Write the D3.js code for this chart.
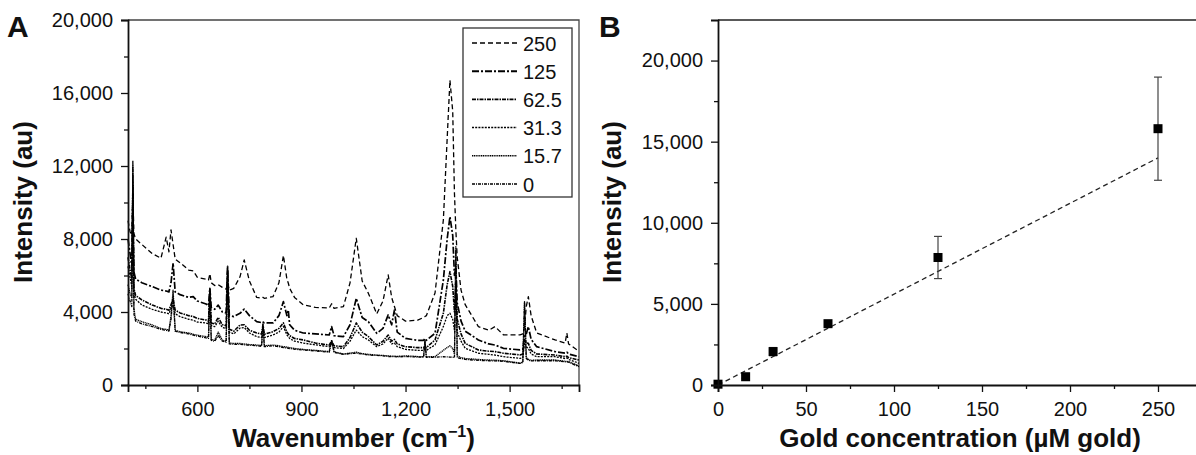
<!DOCTYPE html>
<html lang="en">
<head>
<meta charset="utf-8" />
<title>SERS spectra and calibration</title>
<script src="https://cdn.jsdelivr.net/npm/d3@7/dist/d3.min.js"></script>
<style>
    body { margin: 0; background: #fff; }
    svg { display: block; font-family: "Liberation Sans", Arial, sans-serif; }
    .tick text { font-size: 20px; fill: #111; }
    .title { font-size: 26px; font-weight: bold; fill: #111; }
    .panel { font-size: 30px; font-weight: bold; fill: #111; }
</style>
</head>
<body>
<div id="chart"></div>
<script>
// ---- panel A: spectra (wavenumber grid shared by every series) ----
var wavenumber = [400, 406, 411, 414, 417, 422, 440, 470, 495, 510, 518, 524, 530, 536, 550, 575, 588, 600, 625, 632,
    636, 640, 650, 660, 672, 683, 687, 692, 705, 723, 735, 750, 771, 785, 789, 793, 818, 835, 848, 858,
    862, 866, 880, 905, 940, 980, 987, 994, 1021, 1040, 1058, 1075, 1093, 1117, 1135, 1150, 1160, 1168, 1176, 1200,
    1235, 1252, 1256, 1260, 1285, 1309, 1320, 1328, 1336, 1341, 1345, 1349, 1360, 1372, 1410, 1440, 1458, 1482, 1530, 1538,
    1543, 1548, 1554, 1562, 1578, 1631, 1660, 1665, 1670, 1700];

var spec250 = [9000, 8400, 8200, 10500, 8300, 8000, 7700, 7200, 6950, 8100, 7300, 8500, 7700, 6900, 6700, 6300, 6250, 5900, 5800, 5750,
    6100, 5600, 5450, 5500, 5350, 5250, 5600, 5200, 5300, 5940, 6850, 5700, 4800, 4750, 4800, 4750, 4840, 5600, 7100, 5800,
    5590, 5300, 4800, 4400, 4250, 4220, 4450, 4200, 4300, 5600, 8040, 5700, 5020, 3900, 4600, 6030, 4800, 4300, 3800, 3500,
    3550, 3700, 3750, 3800, 5040, 9040, 13500, 16700, 15000, 10500, 8500, 7000, 5200, 4400, 3200, 3000, 3200, 2750, 2750, 2800,
    3200, 4300, 4840, 3800, 2850, 2470, 2300, 2850, 2250, 1850];

var spec125 = [8000, 7200, 6500, 9500, 6200, 5800, 5600, 5390, 5200, 5150, 5100, 5600, 6680, 5100, 4950, 4800, 4840, 4600, 4440, 4350,
    5300, 4250, 4150, 4380, 4000, 3950, 6500, 3800, 3750, 3930, 4160, 3800, 3470, 3420, 3450, 3400, 3400, 3800, 4570, 3800,
    4110, 3300, 3000, 2850, 2800, 2740, 3200, 2700, 2650, 3300, 4750, 3700, 3470, 2830, 3100, 3840, 3300, 4110, 2900, 2550,
    2450, 2450, 2550, 2450, 2830, 5750, 8000, 9220, 8200, 6000, 6500, 4500, 3500, 2950, 2470, 2250, 2190, 2010, 1920, 1950,
    2700, 2800, 3200, 2500, 2100, 1830, 1750, 1800, 1700, 1550];

var spec62 = [7000, 6300, 5800, 11000, 5300, 4900, 4660, 4380, 4200, 4150, 4100, 4400, 4700, 4100, 3950, 3800, 3750, 3650, 3560, 3500,
    5300, 3400, 3350, 3700, 3300, 3250, 6200, 3050, 2950, 3290, 3300, 3000, 2850, 2800, 3300, 2780, 2920, 3100, 3400, 2900,
    2800, 2700, 2550, 2470, 2300, 2190, 2400, 2150, 2100, 2600, 3400, 2900, 2650, 2190, 2400, 2740, 2400, 2500, 2250, 2100,
    2050, 2050, 2100, 2050, 2470, 3930, 5500, 6210, 5400, 4000, 5500, 3600, 2800, 2280, 1920, 1850, 1830, 1740, 1650, 1700,
    2500, 2300, 2280, 1900, 1700, 1640, 1550, 1580, 1500, 1370];

var spec31 = [6500, 5900, 5400, 11500, 5000, 4700, 4380, 4150, 4000, 3950, 3900, 4200, 4500, 3900, 3750, 3600, 3550, 3450, 3400, 3350,
    5100, 3250, 3200, 3500, 3150, 3100, 6000, 2900, 2800, 3120, 3150, 2850, 2650, 2600, 3200, 2600, 2740, 2900, 3200, 2750,
    2650, 2550, 2400, 2300, 2200, 2100, 2300, 2050, 2000, 2400, 3010, 2650, 2470, 2100, 2250, 2560, 2250, 2300, 2100, 1950,
    1900, 1900, 1950, 1900, 2200, 3200, 3800, 3930, 3600, 3000, 5000, 2900, 2400, 2010, 1740, 1680, 1640, 1550, 1460, 1500,
    2300, 2100, 2010, 1700, 1550, 1550, 1450, 1480, 1400, 1190];

var spec15 = [5500, 5000, 4800, 12000, 4200, 3600, 3470, 3290, 3100, 3050, 3000, 3800, 5200, 3000, 2920, 2850, 2780, 2730, 2650, 2620,
    5100, 2500, 2450, 2900, 2450, 2400, 6400, 2300, 2280, 2280, 2250, 2220, 2190, 2170, 3400, 2150, 2190, 2150, 2100, 2080,
    2060, 2050, 2000, 1950, 1900, 1830, 2470, 1820, 1700, 1750, 1800, 1720, 1680, 1640, 1620, 1600, 1580, 1580, 1570, 1600,
    1560, 1560, 2470, 1550, 1560, 1900, 2050, 2150, 2000, 1700, 7580, 1600, 1500, 1450, 1400, 1370, 1360, 1330, 1200, 1250,
    4570, 1500, 1400, 1350, 1370, 1370, 1300, 1300, 1280, 1050];

var spec0 = [5000, 4600, 4300, 12300, 3900, 3500, 3350, 3200, 3050, 3000, 2950, 3600, 4900, 2950, 2880, 2800, 2740, 2680, 2580, 2560,
    4900, 2450, 2400, 2700, 2400, 2350, 6300, 2250, 2230, 2230, 2200, 2180, 2150, 2120, 3200, 2100, 2150, 2100, 2050, 2030,
    2010, 2000, 1960, 1920, 1870, 1800, 2400, 1790, 1680, 1720, 1740, 1700, 1640, 1620, 1600, 1560, 1550, 1550, 1540, 1560,
    1530, 1520, 2400, 1510, 1520, 1550, 1540, 1530, 1520, 1500, 7400, 1500, 1450, 1400, 1350, 1330, 1320, 1300, 1180, 1230,
    4500, 1450, 1350, 1320, 1330, 1330, 1270, 1270, 1250, 1000];

var legendLabels = ["250", "125", "62.5", "31.3", "15.7", "0"];

var xTicksA = [600, 900, 1200, 1500];
var xMinorA = [450, 750, 1050, 1350, 1650];
var yTicksA = [0, 4000, 8000, 12000, 16000, 20000];
var yMinorA = [2000, 6000, 10000, 14000, 18000];

// ---- panel B: calibration ----
var concentration = [0, 15.7, 31.3, 62.5, 125, 250];
var meanIntensity = [50, 510, 2060, 3780, 7860, 15800];
var errIntensity = [0, 100, 250, 150, 1300, 3180];
var fitConc = [0, 250];
var fitIntensity = [0, 14000];

var xTicksB = [0, 50, 100, 150, 200, 250];
var xMinorB = [25, 75, 125, 175, 225];
var yTicksB = [0, 5000, 10000, 15000, 20000];
var yMinorB = [2500, 7500, 12500, 17500];

var width = 1196, height = 455;

var svg = d3.select("#chart").append("svg")
    .attr("width", width)
    .attr("height", height);

var fmt = d3.format(",");

// scales
var xA = d3.scaleLinear().domain([400, 1700]).range([128, 579]);
var yA = d3.scaleLinear().domain([0, 20000]).range([385, 20]);
var xB = d3.scaleLinear().domain([0, 275]).range([718, 1202]);
var yB = d3.scaleLinear().domain([0, 22500]).range([385, 20]);

// helper: major + minor axis
function drawAxis(axisFn, scale, major, minor, translate, pad) {
    svg.append("g")
        .attr("transform", translate)
        .call(axisFn(scale).tickValues(minor).tickSize(4).tickFormat(""))
        .call(function (g) { g.select(".domain").remove(); })
        .selectAll("line").attr("stroke", "#111").attr("stroke-width", 1.3);
    var g = svg.append("g")
        .attr("transform", translate)
        .call(axisFn(scale).tickValues(major).tickSize(7).tickPadding(pad).tickFormat(fmt));
    g.selectAll("line").attr("stroke", "#111").attr("stroke-width", 1.3);
    g.select(".domain").attr("stroke", "#111").attr("stroke-width", 1.8);
    g.selectAll("text").attr("font-family", null).attr("font-size", null);
    return g;
}

// ---------- Panel A ----------
// frame top/right
svg.append("path")
    .attr("d", "M" + xA(400) + "," + yA(20000) + "H" + xA(1700) + "V" + yA(0))
    .attr("fill", "none").attr("stroke", "#444").attr("stroke-width", 1.3);

var series = [
    { label: "250", values: spec250, dash: "5,3", w: 1.3 },
    { label: "125", values: spec125, dash: "7,2,2,2", w: 1.7 },
    { label: "62.5", values: spec62, dash: "4,1,1.5,1", w: 1.6 },
    { label: "31.3", values: spec31, dash: "2,1.2", w: 1.3 },
    { label: "15.7", values: spec15, dash: "1.2,0.6", w: 1.3 },
    { label: "0", values: spec0, dash: "3,1,1,1", w: 1.3 }
];

var lineA = d3.line()
    .x(function (d, i) { return xA(wavenumber[i]); })
    .y(function (d) { return yA(d); });

svg.append("g").selectAll("path")
    .data(series.slice().reverse())
    .enter().append("path")
    .attr("d", function (s) { return lineA(s.values); })
    .attr("fill", "none")
    .attr("stroke", "#000")
    .attr("stroke-width", function (s) { return s.w; })
    .attr("stroke-dasharray", function (s) { return s.dash; })
    .attr("stroke-linejoin", "round");

drawAxis(d3.axisLeft, yA, yTicksA, yMinorA, "translate(" + xA(400) + ",0)", 8);
drawAxis(d3.axisBottom, xA, xTicksA, xMinorA, "translate(0," + yA(0) + ")", 10);

// legend
var legend = svg.append("g").attr("transform", "translate(463,28)");
legend.append("rect")
    .attr("width", 109).attr("height", 169)
    .attr("fill", "#fff").attr("stroke", "#333").attr("stroke-width", 1.3);
var item = legend.selectAll(".item")
    .data(series)
    .enter().append("g")
    .attr("transform", function (s, i) { return "translate(0," + (15 + i * 28.2) + ")"; });
item.append("line")
    .attr("x1", 9).attr("x2", 54).attr("y1", 0).attr("y2", 0)
    .attr("stroke", "#000")
    .attr("stroke-width", function (s) { return s.w + 0.2; })
    .attr("stroke-dasharray", function (s) { return s.dash; });
item.append("text")
    .attr("x", 60).attr("y", 7.5)
    .attr("font-size", 20).attr("fill", "#111")
    .text(function (s) { return s.label; });

// titles
svg.append("text").attr("class", "title")
    .attr("text-anchor", "middle")
    .attr("transform", "translate(32,202) rotate(-90)")
    .text("Intensity (au)");
var tA = svg.append("text").attr("class", "title")
    .attr("text-anchor", "middle")
    .attr("x", (xA(400) + xA(1700)) / 2).attr("y", 447);
tA.append("tspan").text("Wavenumber (cm");
tA.append("tspan").attr("font-size", 16).attr("dy", -10).text("\u22121");
tA.append("tspan").attr("dy", 10).text(")");
svg.append("text").attr("class", "panel").attr("x", 7).attr("y", 37).text("A");

// ---------- Panel B ----------
svg.append("path")
    .attr("d", "M" + xB(0) + "," + yB(22500) + "H" + xB(275))
    .attr("fill", "none").attr("stroke", "#222").attr("stroke-width", 1.5);

var lineB = d3.line()
    .x(function (d, i) { return xB(fitConc[i]); })
    .y(function (d) { return yB(d); });
svg.append("path")
    .attr("d", lineB(fitIntensity))
    .attr("fill", "none")
    .attr("stroke", "#222")
    .attr("stroke-width", 1.3)
    .attr("stroke-dasharray", "5,3.5");

var pts = svg.append("g").selectAll("g")
    .data(concentration)
    .enter().append("g");
pts.filter(function (d, i) { return errIntensity[i] > 0; })
    .each(function (d) {
        var i = concentration.indexOf(d);
        var g = d3.select(this);
        var x = xB(d), y1 = yB(meanIntensity[i] + errIntensity[i]), y2 = yB(meanIntensity[i] - errIntensity[i]);
        g.append("line").attr("x1", x).attr("x2", x).attr("y1", y1).attr("y2", y2);
        g.append("line").attr("x1", x - 4).attr("x2", x + 4).attr("y1", y1).attr("y2", y1);
        g.append("line").attr("x1", x - 4).attr("x2", x + 4).attr("y1", y2).attr("y2", y2);
        g.selectAll("line").attr("stroke", "#444").attr("stroke-width", 1.2);
    });
pts.append("rect")
    .attr("x", function (d) { return xB(d) - 4.5; })
    .attr("y", function (d, i) { return yB(meanIntensity[i]) - 4.5; })
    .attr("width", 9).attr("height", 9)
    .attr("fill", "#000");

drawAxis(d3.axisLeft, yB, yTicksB, yMinorB, "translate(" + xB(0) + ",0)", 8);
drawAxis(d3.axisBottom, xB, xTicksB, xMinorB, "translate(0," + yB(0) + ")", 10);

svg.append("text").attr("class", "title")
    .attr("text-anchor", "middle")
    .attr("transform", "translate(621,202) rotate(-90)")
    .text("Intensity (au)");
svg.append("text").attr("class", "title")
    .attr("text-anchor", "middle")
    .attr("x", (xB(0) + xB(275)) / 2).attr("y", 447)
    .text("Gold concentration (\u00b5M gold)");
svg.append("text").attr("class", "panel").attr("x", 599).attr("y", 37).text("B");
</script>
</body>
</html>
